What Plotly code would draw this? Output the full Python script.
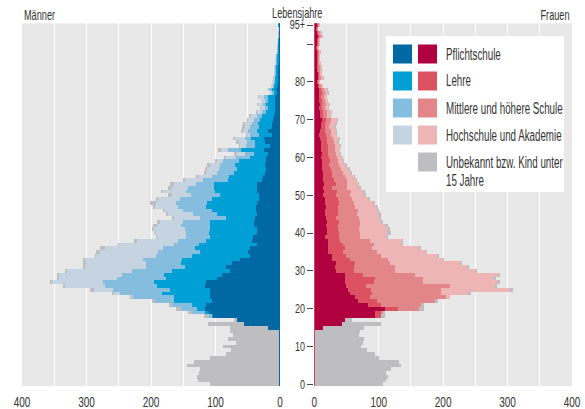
import plotly.graph_objects as go

W, H = 585, 409

ages = list(range(96))
age_tick_vals = [0, 10, 20, 30, 40, 50, 60, 70, 80, 90, 95]
age_tick_text = ["0", "10", "20", "30", "40", "50", "60", "70", "80", "", "95+"]
x_tick_vals = [0, 50, 100, 150, 200, 250, 300, 350, 400]
x_tick_text = ["0", "", "100", "", "200", "", "300", "", "400"]

categories = ["Pflichtschule", "Lehre", "Mittlere und höhere Schule",
              "Hochschule und Akademie", "Unbekannt bzw. Kind unter 15 Jahre"]

men_pflicht = [1, 1, 1, 1, 1, 1, 1, 1, 1, 1,
               1, 1, 1, 1, 1, 18, 56, 66, 104, 110,
               116, 114, 106, 108, 108, 109, 116, 114, 98, 90,
               78, 83, 75, 62, 47, 49, 46, 36, 44, 42,
               35, 35, 40, 41, 39, 36, 37, 37, 36, 32,
               32, 36, 35, 36, 28, 26, 23, 22, 23, 22,
               21, 18, 25, 16, 23, 25, 12, 18, 13, 12,
               11, 10, 8, 7, 8, 7, 7, 4, 5.5, 4,
               3.5, 3, 3, 2.5, 2.5, 2, 2, 2, 1.5, 1.5,
               1.5, 1.2, 1, 1, 1, 1.5]
men_lehre = [0, 0, 0, 0, 0, 0, 0, 0, 0, 0,
             0, 0, 0, 0, 0, 0, 0, 0, 2, 6,
             12, 23, 59, 57, 75, 61, 74, 81, 78, 90,
             89, 64, 79, 90, 90, 75, 86, 89, 70, 66,
             75, 74, 68, 68, 44, 62, 69, 78, 77, 74,
             61, 65, 67, 67, 52, 53, 49, 45, 47, 41,
             26, 23, 36, 22, 15, 20, 20, 18, 19, 22,
             20, 18, 14, 12, 13, 11, 12, 6, 7.5, 5,
             4.5, 4, 3.5, 3.5, 3.5, 3, 3, 2.5, 2, 2,
             1.5, 1.2, 1, 0.8, 0.5, 1]
men_mittlere = [0, 0, 0, 0, 0, 0, 0, 0, 0, 0,
                0, 0, 0, 0, 0, 0, 0, 0, 4, 20,
                26, 31, 29, 63, 65, 89, 81, 79, 77, 65,
                63, 60, 53, 60, 55, 65, 49, 39, 44, 37,
                36, 38, 45, 41, 41, 37, 44, 43, 49, 49,
                45, 44, 40, 28, 40, 26, 26, 28, 23, 25,
                21, 13, 20, 14, 13, 10, 14, 14, 15, 10,
                9, 8, 6, 5, 6, 5, 6, 2.5, 3.5, 2.5,
                2, 1.5, 1.5, 1.3, 1.3, 1, 1, 1, 0.7, 0.6,
                0.5, 0.5, 0.3, 0.3, 0.2, 0.3]
men_hochschule = [0, 0, 0, 0, 0, 0, 0, 0, 0, 0,
                  0, 0, 0, 0, 0, 0, 0, 0, 0, 0,
                  0, 0, 0, 1, 10, 29, 62, 79, 89, 98,
                  101, 95, 94, 90, 93, 90, 91, 85, 63, 45,
                  48, 49, 38, 36, 40, 38, 28, 36, 31, 34,
                  30, 36, 26, 34, 27, 20, 17, 18, 16, 10,
                  15, 13, 11, 10, 13, 15, 5, 7, 8, 10,
                  9.5, 9, 7, 6, 6.5, 6, 7, 2.5, 3.5, 2.5,
                  2, 1.5, 1.5, 1.5, 1.3, 1.2, 1.2, 1, 0.7, 0.6,
                  0.5, 0.4, 0.3, 0.2, 0.2, 0.3]
men_unbekannt = [108, 126, 128, 124, 123, 143, 132, 107, 83, 75,
                 88, 68, 80, 72, 77, 60, 55, 6, 8, 6,
                 7, 4, 5, 4, 3, 7, 3, 4, 3, 2,
                 2, 4, 4, 3, 2, 6, 7, 2, 5, 3,
                 2, 3, 6, 4, 4, 4, 3, 3, 8, 3,
                 5, 3, 5, 5, 4, 5, 3, 3, 4, 3,
                 4, 4, 4, 2, 4, 3, 2, 3, 4, 3,
                 2, 2.5, 2, 1, 1.5, 1, 1.5, 0.6, 0.8, 0.7,
                 0.6, 0.6, 0.5, 0.5, 0.5, 0.5, 0.5, 0.4, 0.3, 0.3,
                 0.3, 0.2, 0.2, 0.2, 0.1, 0.3]

women_pflicht = [1, 1, 1, 1, 1, 1, 1, 1, 1, 1,
                 1, 1, 1, 1, 1, 14, 43, 48, 94, 94,
                 109, 84, 68, 63, 56, 52, 49, 48, 47, 48,
                 33, 32, 33, 28, 27, 22, 22, 21, 21, 17,
                 19, 19, 18, 19, 18, 16, 17, 18, 17, 16,
                 14, 15, 14, 15, 14, 14, 14, 12, 12, 12,
                 11, 12, 11, 10, 11, 9, 8, 9, 10, 11,
                 12, 9, 9, 8, 8.5, 8, 7, 8, 7.5, 5.5,
                 3.5, 5.5, 5, 4.5, 4.5, 4, 3.5, 4, 4, 3,
                 3.5, 3.5, 5, 4, 3, 4]
women_lehre = [0, 0, 0, 0, 0, 0, 0, 0, 0, 0,
               0, 0, 0, 0, 0, 0, 0, 0, 10, 10,
               21, 20, 30, 23, 34, 36, 31, 45, 47, 28,
               28, 29, 30, 28, 22, 23, 25, 24, 19, 22,
               20, 18, 19, 19, 16, 21, 20, 19, 21, 21,
               19, 20, 14, 18, 16, 14, 13, 14, 11, 12,
               12, 10, 11, 12, 8, 10, 10, 8, 6, 6,
               6, 4.5, 4.5, 4, 4, 3.5, 3, 4, 3.5, 2.5,
               1.5, 2.5, 2, 2, 2, 2, 1.5, 1.5, 2, 1.5,
               1.5, 1.5, 2.5, 2, 1, 1]
women_mittlere = [0, 0, 0, 0, 0, 0, 0, 0, 0, 0,
                  0, 0, 0, 0, 0, 0, 0, 0, 0, 2,
                  32, 62, 89, 119, 107, 109, 131, 76, 74, 80,
                  64, 65, 55, 59, 55, 52, 43, 47, 47, 32,
                  32, 33, 34, 33, 36, 30, 31, 26, 23, 21,
                  23, 22, 22, 17, 21, 20, 18, 15, 15, 13,
                  12, 11, 10, 10, 11, 10, 8, 9, 7, 8,
                  8, 6, 6, 5, 5.5, 5, 4.5, 5, 4.5, 3,
                  2, 3, 2.5, 2.5, 2.5, 2, 2, 2, 2, 1.5,
                  2, 2, 3, 2.5, 1, 2]
women_hochschule = [0, 0, 0, 0, 0, 0, 0, 0, 0, 0,
                    0, 0, 0, 0, 0, 0, 0, 0, 0, 0,
                    0, 0, 1, 5, 42, 107, 70, 115, 110, 129,
                    125, 111, 109, 85, 86, 76, 72, 44, 49, 41,
                    42, 44, 39, 32, 30, 33, 30, 33, 32, 25,
                    21, 19, 20, 18, 13, 13, 11, 12, 10, 7,
                    8, 7, 7, 8, 6, 9, 8, 7, 8, 8.5,
                    9, 5.5, 6.5, 5, 5.5, 4.5, 4, 5, 4.5, 2.5,
                    1.5, 3, 2.5, 2, 2, 2, 1.5, 1.5, 2, 1,
                    1.5, 1.5, 3, 2.5, 1, 2]
women_unbekannt = [106, 110, 113, 111, 118, 134, 131, 100, 94, 81,
                   71, 74, 76, 69, 70, 63, 60, 10, 5, 4,
                   9, 4, 4, 1, 5, 5, 2, 4, 4, 4,
                   2, 3, 2, 2, 3, 2, 3, 2, 2, 3,
                   6, 4, 5, 3, 3, 4, 3, 3, 2, 3,
                   3, 2, 2, 2, 2, 2, 2, 2, 2, 2,
                   2, 2, 1, 2, 2, 2, 2, 2, 2, 1.2,
                   2.3, 1, 1, 0.8, 0.9, 0.8, 0.7, 0.8, 0.8, 0.5,
                   0.4, 0.6, 0.5, 0.4, 0.4, 0.4, 0.4, 0.4, 0.4, 0.3,
                   0.4, 0.4, 0.5, 0.5, 0.3, 0.5]

men_colors = ["#0069a4", "#009fd5", "#85bddf", "#c6d3e1", "#bebec0"]
women_colors = ["#b1003e", "#dc5262", "#e2868a", "#eeb5b6", "#bebec0"]

FONT = "'Liberation Sans', Arial, sans-serif"
TXT = "#333333"

def px(x):
    return x / W

def py(y):
    return 1 - y / H

fig = go.Figure()
men_series = [men_pflicht, men_lehre, men_mittlere, men_hochschule, men_unbekannt]
women_series = [women_pflicht, women_lehre, women_mittlere, women_hochschule, women_unbekannt]
for name, vals, col in zip(categories, men_series, men_colors):
    fig.add_trace(go.Bar(y=ages, x=vals, orientation="h", name=name, marker=dict(color=col, line=dict(width=0)),
                         xaxis="x", yaxis="y", width=1, showlegend=False, hoverinfo="skip"))
for name, vals, col in zip(categories, women_series, women_colors):
    fig.add_trace(go.Bar(y=ages, x=vals, orientation="h", name=name, marker=dict(color=col, line=dict(width=0)),
                         xaxis="x2", yaxis="y", width=1, showlegend=False, hoverinfo="skip"))

xcommon = dict(tickvals=x_tick_vals, ticktext=x_tick_text, showgrid=True, gridcolor="white", gridwidth=1,
               zeroline=False, showline=False, ticks="outside", ticklen=2, tickcolor="rgba(0,0,0,0)",
               tickfont=dict(family=FONT, size=14.5, color=TXT), automargin=False, fixedrange=True)

fig.update_layout(
    width=W, height=H, template="none",
    margin=dict(l=0, r=0, t=0, b=0),
    paper_bgcolor="white", plot_bgcolor="#e8e8e8",
    barmode="stack", bargap=0,
    font=dict(family=FONT, size=12, color=TXT),
    xaxis=dict(domain=[px(22), px(280)], range=[400, 0], anchor="y", **xcommon),
    xaxis2=dict(domain=[px(314.3), px(572)], range=[0, 400], anchor="y", **xcommon),
    yaxis=dict(domain=[py(386.2), py(23.3)], range=[-0.5, 95.5], anchor="x2", side="left",
               tickvals=age_tick_vals, ticktext=age_tick_text, showgrid=False, zeroline=False,
               showline=False, ticks="outside", ticklen=6, tickwidth=1, tickcolor="#444444",
               tickfont=dict(family=FONT, size=12, color=TXT), automargin=False, fixedrange=True),
)

TF = dict(family=FONT, size=15, color=TXT)
annotations = [
    dict(text="Männer", x=px(22), y=py(14), xanchor="left", align="left", yanchor="middle", font=TF),
    dict(text="Lebensjahre", x=px(297), y=py(13), xanchor="center", align="center", yanchor="middle", font=TF),
    dict(text="Frauen", x=px(572), y=py(14), xanchor="right", align="right", yanchor="middle", font=TF),
]
shapes = [dict(type="rect", xref="paper", yref="paper", x0=px(386), x1=px(564), y0=py(192), y1=py(36),
               fillcolor="white", line=dict(width=0), layer="above")]

legend_rows = [54, 81, 108, 135]
legend_labels = ["Pflichtschule", "Lehre", "Mittlere und höhere Schule", "Hochschule und Akademie"]
LEGF = dict(family=FONT, size=16, color=TXT)
for i, (yc, lab) in enumerate(zip(legend_rows, legend_labels)):
    shapes.append(dict(type="rect", xref="paper", yref="paper", x0=px(393), x1=px(412), y0=py(yc + 9.5), y1=py(yc - 9.5),
                       fillcolor=men_colors[i], line=dict(width=0), layer="above"))
    shapes.append(dict(type="rect", xref="paper", yref="paper", x0=px(418), x1=px(437), y0=py(yc + 9.5), y1=py(yc - 9.5),
                       fillcolor=women_colors[i], line=dict(width=0), layer="above"))
    annotations.append(dict(text=lab, x=px(444), y=py(yc), xanchor="left", align="left", yanchor="middle", font=LEGF))
shapes.append(dict(type="rect", xref="paper", yref="paper", x0=px(418), x1=px(437), y0=py(171.5), y1=py(152.5),
                   fillcolor=men_colors[4], line=dict(width=0), layer="above"))
annotations.append(dict(text="Unbekannt bzw. Kind unter", x=px(444), y=py(162.5), xanchor="left", align="left",
                        yanchor="middle", font=LEGF))
annotations.append(dict(text="15 Jahre", x=px(444), y=py(180), xanchor="left", align="left",
                        yanchor="middle", font=LEGF))

for a in annotations:
    a.update(xref="paper", yref="paper", showarrow=False)

fig.update_layout(annotations=annotations, shapes=shapes)

# condensed look of the original typeface: squeeze glyph widths of the real text
post = """
document.body.style.margin='0';document.body.style.padding='0';
var gd=document.getElementById('{plot_id}');
function squeeze(sel,f){gd.querySelectorAll(sel).forEach(function(t){var w=t.getComputedTextLength();
 if(w>0){t.setAttribute('textLength',(w*f).toFixed(2));t.setAttribute('lengthAdjust','spacingAndGlyphs');}});}
squeeze('.annotation-text',0.61);
squeeze('.xtick text',0.69);
squeeze('.x2tick text',0.69);
squeeze('.ytick text',0.75);
"""
fig.write_html("out.html", post_script=post, config={"displayModeBar": False, "staticPlot": True})
